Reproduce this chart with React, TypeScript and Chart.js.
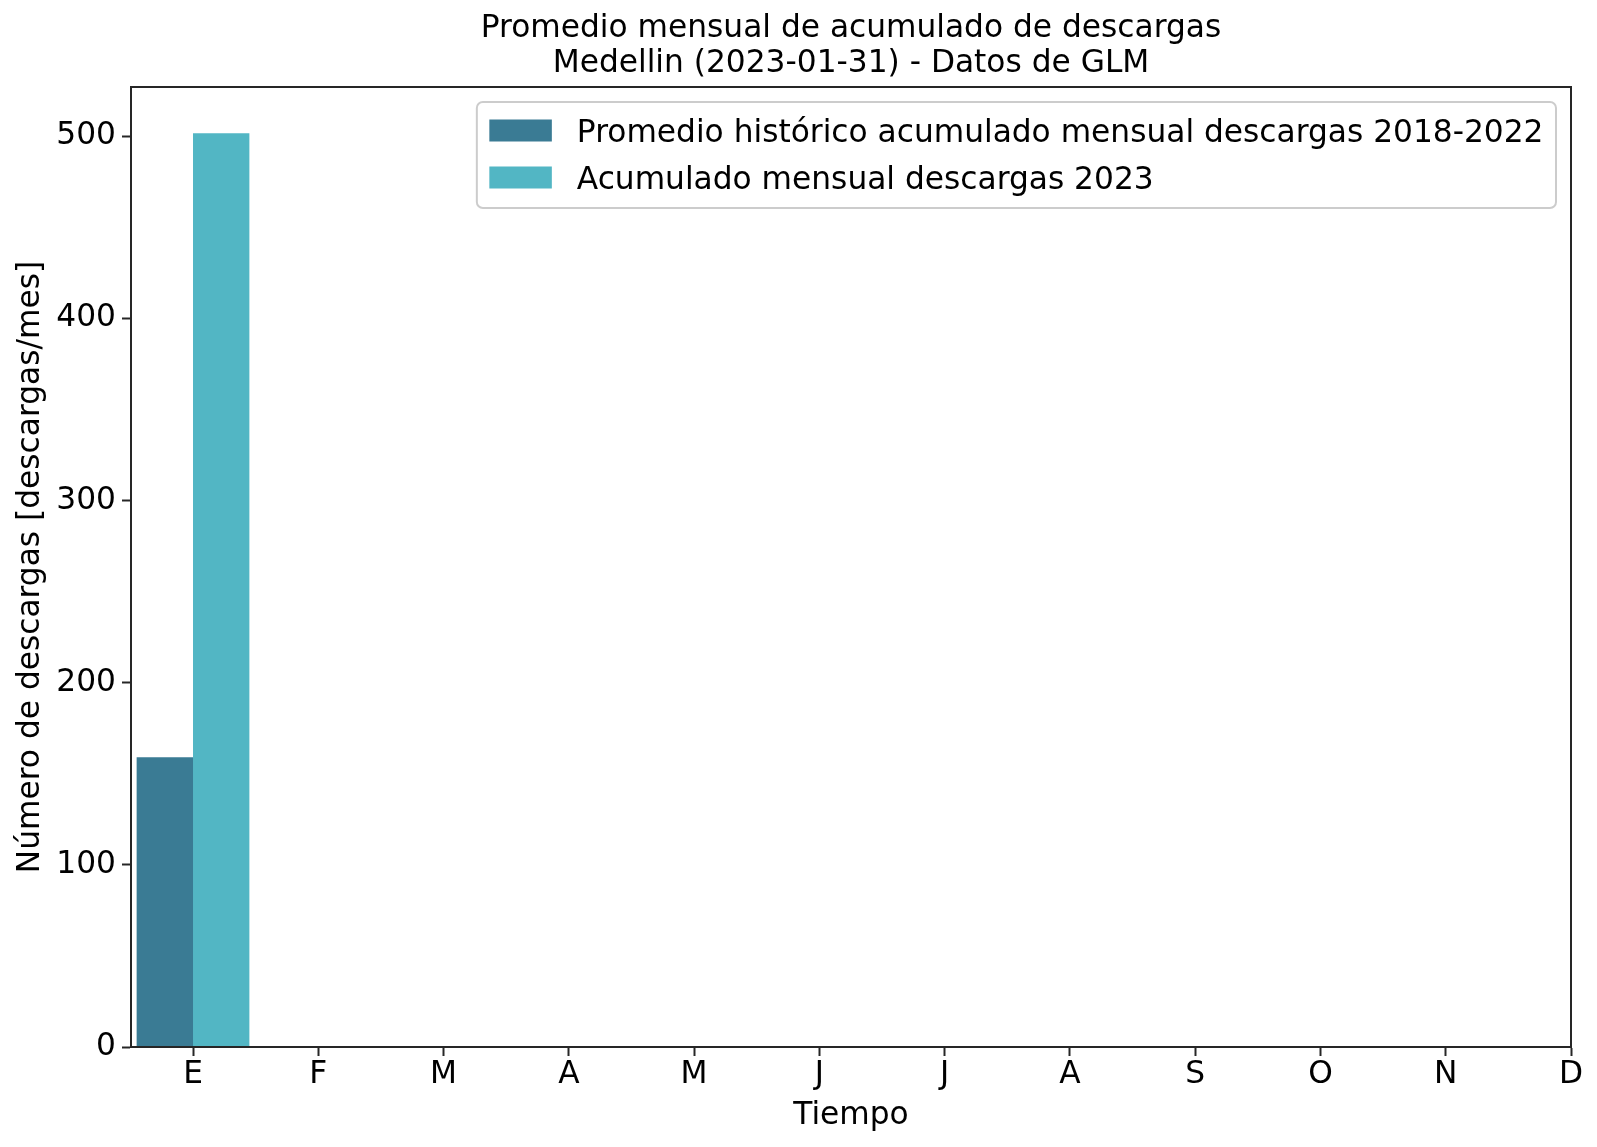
import { useEffect, useRef } from "react";
import { Chart, registerables } from "chart.js";

Chart.register(...registerables);

const monthLabels = ["E", "F", "M", "A", "M", "J", "J", "A", "S", "O", "N", "D"];
const monthIndex = [0];
const historicalValues = [159.1];
const currentValues = [501.6];
const yTickValues = [0, 100, 200, 300, 400, 500];
const titleLines = [
  "Promedio mensual de acumulado de descargas",
  "Medellin (2023-01-31) - Datos de GLM",
];
const seriesLabels = [
  "Promedio histórico acumulado mensual descargas 2018-2022",
  "Acumulado mensual descargas 2023",
];
const seriesColors = ["#3a7b94", "#52b6c4"];
const xAxisTitle = "Tiempo";
const yAxisTitle = "Número de descargas [descargas/mes]";

const FAMILY = '"DejaVu Sans", sans-serif';
const FONT_SIZE = 31.25;
const AXIS_COLOR = "#262626";

const decorPlugin = {
  id: "decor",
  afterDraw(chart: any) {
    const { ctx, chartArea: a } = chart;
    ctx.save();
    // frame (spines)
    ctx.strokeStyle = AXIS_COLOR;
    ctx.lineWidth = 2;
    ctx.strokeRect(a.left, a.top, a.right - a.left, a.bottom - a.top);

    // title
    ctx.fillStyle = "#000";
    ctx.font = `${FONT_SIZE}px ${FAMILY}`;
    ctx.textAlign = "center";
    ctx.textBaseline = "alphabetic";
    const cx = (a.left + a.right) / 2;
    ctx.fillText(titleLines[0], cx, a.top - 50);
    ctx.fillText(titleLines[1], cx, a.top - 15);

    // legend
    const datasets = chart.data.datasets;
    ctx.font = `${FONT_SIZE}px ${FAMILY}`;
    let textW = 0;
    datasets.forEach((d: any) => {
      textW = Math.max(textW, ctx.measureText(d.label).width);
    });
    const pad = 12.5;
    const handleW = 62.5;
    const handleGap = 25;
    const boxW = pad + handleW + handleGap + textW + pad;
    const right = a.right - 15;
    const left = right - boxW;
    const top = a.top + 15;
    const boxH = 106;
    const r = 6;
    ctx.beginPath();
    ctx.moveTo(left + r, top);
    ctx.lineTo(right - r, top);
    ctx.arcTo(right, top, right, top + r, r);
    ctx.lineTo(right, top + boxH - r);
    ctx.arcTo(right, top + boxH, right - r, top + boxH, r);
    ctx.lineTo(left + r, top + boxH);
    ctx.arcTo(left, top + boxH, left, top + boxH - r, r);
    ctx.lineTo(left, top + r);
    ctx.arcTo(left, top, left + r, top, r);
    ctx.closePath();
    ctx.fillStyle = "rgba(255,255,255,0.8)";
    ctx.fill();
    ctx.strokeStyle = "#cccccc";
    ctx.lineWidth = 2;
    ctx.stroke();

    ctx.textAlign = "left";
    ctx.textBaseline = "alphabetic";
    datasets.forEach((d: any, i: number) => {
      const baseline = top + 40 + i * 47;
      ctx.fillStyle = d.backgroundColor;
      ctx.fillRect(left + pad, baseline - 22.5, handleW, 22);
      ctx.fillStyle = "#000";
      ctx.fillText(d.label, left + pad + handleW + handleGap, baseline);
    });
    ctx.restore();
  },
};

export default function App() {
  const canvasRef = useRef<HTMLCanvasElement | null>(null);

  useEffect(() => {
    const canvas = canvasRef.current;
    if (!canvas) return;
    const tickFont = { family: FAMILY, size: FONT_SIZE };
    const chart = new Chart(canvas, {
      type: "bar",
      data: {
        datasets: [
          {
            label: seriesLabels[0],
            data: monthIndex.map((x, i) => ({ x, y: historicalValues[i] })),
            backgroundColor: seriesColors[0],
            borderWidth: 0,
            categoryPercentage: 0.9,
            barPercentage: 1.0,
          },
          {
            label: seriesLabels[1],
            data: monthIndex.map((x, i) => ({ x, y: currentValues[i] })),
            backgroundColor: seriesColors[1],
            borderWidth: 0,
            categoryPercentage: 0.9,
            barPercentage: 1.0,
          },
        ],
      } as any,
      options: {
        animation: false,
        responsive: false,
        devicePixelRatio: 1,
        layout: { padding: { top: 87, right: 26, left: 0, bottom: 0 } },
        plugins: {
          legend: { display: false },
          title: { display: false },
          tooltip: { enabled: false },
        },
        scales: {
          x: {
            type: "linear",
            min: -0.495,
            max: 11,
            bounds: "data",
            offset: false,
            afterBuildTicks: (s: any) => {
              s.ticks = monthLabels.map((_, i) => ({ value: i }));
            },
            afterFit: (s: any) => {
              s.height = 100;
            },
            ticks: {
              autoSkip: false,
              maxRotation: 0,
              minRotation: 0,
              padding: 0,
              color: "#000",
              font: tickFont,
              callback: (v: any) => monthLabels[v] ?? "",
            },
            grid: {
              display: true,
              offset: false,
              drawOnChartArea: false,
              drawTicks: true,
              tickLength: 9,
              tickWidth: 2,
              tickColor: AXIS_COLOR,
            },
            border: { display: true, color: AXIS_COLOR, width: 2 },
            title: {
              display: true,
              text: xAxisTitle,
              color: "#000",
              font: { family: FAMILY, size: FONT_SIZE },
              padding: { top: 0, bottom: 12 },
            },
          },
          y: {
            type: "linear",
            min: 0,
            max: 527,
            afterBuildTicks: (s: any) => {
              s.ticks = yTickValues.map((v) => ({ value: v }));
            },
            afterFit: (s: any) => {
              s.width = 131;
            },
            ticks: {
              padding: 6,
              color: "#000",
              font: tickFont,
              callback: (v: any) => String(v),
            },
            grid: {
              display: true,
              offset: false,
              drawOnChartArea: false,
              drawTicks: true,
              tickLength: 9,
              tickWidth: 2,
              tickColor: AXIS_COLOR,
            },
            border: { display: true, color: AXIS_COLOR, width: 2 },
            title: {
              display: true,
              text: yAxisTitle,
              color: "#000",
              font: { family: FAMILY, size: FONT_SIZE },
              padding: { top: 12, bottom: 0 },
            },
          },
        },
      } as any,
      plugins: [decorPlugin],
    });
    return () => chart.destroy();
  }, []);

  return (
    <div style={{ position: "fixed", left: 0, top: 0, width: 1597, height: 1147, background: "#fff" }}>
      <canvas ref={canvasRef} width={1597} height={1147} style={{ width: 1597, height: 1147, display: "block" }} />
    </div>
  );
}
